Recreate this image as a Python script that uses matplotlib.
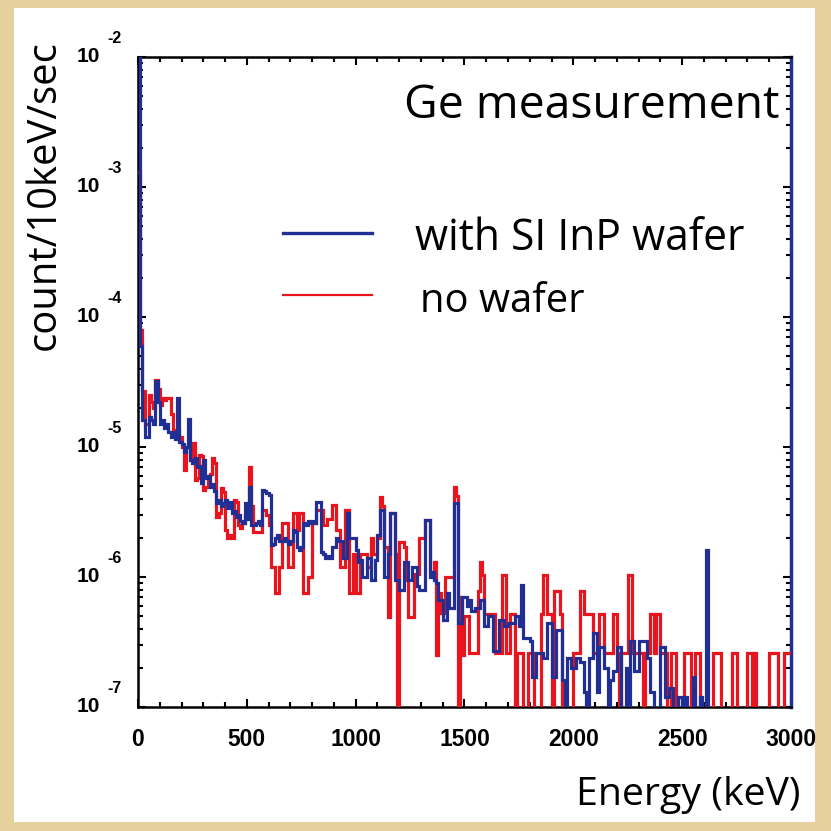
import numpy as np
import matplotlib
matplotlib.use("Agg")
import matplotlib.pyplot as plt
from matplotlib.patches import Rectangle
from matplotlib.transforms import offset_copy
from matplotlib import font_manager as fm

# ---------------- data (count / 10 keV / sec, 10 keV bins from 0 to 3000 keV) ----------------
bin_width_kev = 10
e_min, e_max = 0, 3000

with_wafer_0_500 = [
    2e-2, 6e-5, 1.6e-5, 1.2e-5, 1.2e-5, 1.7e-5, 1.6e-5, 1.5e-5, 3.2e-5, 2.2e-5,
    1.5e-5, 1.6e-5, 1.4e-5, 1.5e-5, 1.3e-5, 1.2e-5, 1.3e-5, 1.15e-5, 2.4e-5, 1.1e-5,
    1.05e-5, 9.2e-6, 1.0e-5, 1.65e-5, 8.0e-6, 7.5e-6, 8.2e-6, 7.0e-6, 7.2e-6, 5.3e-6,
    7.9e-6, 5.8e-6, 6.0e-6, 4.9e-6, 5.2e-6, 4.6e-6, 3.7e-6, 3.9e-6, 3.5e-6, 3.7e-6,
    3.9e-6, 3.4e-6, 3.8e-6, 3.1e-6, 3.2e-6, 2.9e-6, 3.0e-6, 2.7e-6, 2.6e-6, 3.7e-6]
with_wafer_500_1000 = [
    2.8e-6, 4.9e-6, 2.5e-6, 2.5e-6, 2.6e-6, 2.7e-6, 2.5e-6, 4.7e-6, 4.6e-6, 4.4e-6,
    4.3e-6, 1.75e-6, 1.8e-6, 2.0e-6, 2.1e-6, 1.9e-6, 1.9e-6, 2.0e-6, 1.9e-6, 1.8e-6,
    1.9e-6, 2.3e-6, 2.2e-6, 1.7e-6, 1.6e-6, 1.7e-6, 2.6e-6, 2.5e-6, 2.7e-6, 2.6e-6,
    2.7e-6, 2.6e-6, 3.8e-6, 3.8e-6, 1.55e-6, 1.5e-6, 1.4e-6, 1.45e-6, 1.4e-6, 1.7e-6,
    1.7e-6, 2.0e-6, 1.9e-6, 1.9e-6, 1.4e-6, 1.4e-6, 3.1e-6, 2.0e-6, 2.0e-6, 2.0e-6]
with_wafer_1000_1500 = [
    1.6e-6, 1.3e-6, 1.35e-6, 1.0e-6, 1.0e-6, 1.4e-6, 1.4e-6, 9.5e-7, 9.5e-7, 1.35e-6,
    2.1e-6, 3.3e-6, 3.3e-6, 1.0e-6, 1.0e-6, 1.5e-6, 3.1e-6, 3.1e-6, 9.5e-7, 9.5e-7,
    7.9e-7, 7.9e-7, 1.3e-6, 1.3e-6, 9.5e-7, 9.5e-7, 1.2e-6, 1.2e-6, 8.5e-7, 7.9e-7,
    7.9e-7, 7.9e-7, 2.75e-6, 2.75e-6, 1.0e-6, 1.1e-6, 9.5e-7, 9.0e-7, 6.6e-7, 6.6e-7,
    4.7e-7, 4.7e-7, 7.5e-7, 5.8e-7, 5.8e-7, 3.7e-6, 3.7e-6, 4.4e-7, 4.4e-7, 7.0e-7]
with_wafer_1500_2000 = [
    7.0e-7, 6.0e-7, 6.6e-7, 5.5e-7, 5.5e-7, 5.8e-7, 5.8e-7, 6.6e-7, 6.6e-7, 4.2e-7,
    4.2e-7, 5.0e-7, 5.0e-7, 2.7e-7, 2.7e-7, 2.7e-7, 4.7e-7, 4.7e-7, 4.2e-7, 4.2e-7,
    4.4e-7, 4.4e-7, 4.4e-7, 5.0e-7, 5.0e-7, 4.2e-7, 8.7e-7, 3.4e-7, 3.4e-7, 3.4e-7,
    3.2e-7, 1.7e-7, 1.7e-7, 2.6e-7, 2.6e-7, 2.6e-7, 2.4e-7, 2.4e-7, 4.4e-7, 4.4e-7,
    1.7e-7, 1.7e-7, 3.9e-7, 3.9e-7, 3.9e-7, 1.6e-7, 0, 2.4e-7, 2.4e-7, 2.0e-7]
with_wafer_2000_2500 = [
    2.0e-7, 2.4e-7, 2.4e-7, 2.2e-7, 2.2e-7, 1.3e-7, 0, 2.4e-7, 2.4e-7, 3.7e-7,
    3.7e-7, 1.3e-7, 2.9e-7, 2.9e-7, 2.0e-7, 2.0e-7, 0, 1.6e-7, 1.9e-7, 1.9e-7,
    2.9e-7, 2.9e-7, 0, 0, 2.0e-7, 0, 3.2e-7, 3.2e-7, 1.9e-7, 1.9e-7,
    3.2e-7, 3.2e-7, 3.2e-7, 3.2e-7, 2.4e-7, 1.3e-7, 1.3e-7, 0, 0, 0,
    2.9e-7, 2.9e-7, 1.2e-7, 1.2e-7, 1.4e-7, 1.4e-7, 0, 0, 1.2e-7, 1.2e-7]
with_wafer_2500_3000 = [
    0, 1.2e-7, 0, 0, 0, 1.7e-7, 0, 0, 1.2e-7, 0,
    0, 1.6e-6, 0, 0, 0, 0, 0, 0, 0, 0,
    0, 0, 0, 0, 0, 0, 0, 0, 0, 0,
    0, 0, 0, 0, 0, 0, 0, 0, 0, 0,
    0, 0, 0, 0, 0, 0, 0, 0, 0, 0]

no_wafer_0_500 = [
    1.3e-3, 8e-5, 2.7e-5, 1.5e-5, 1.5e-5, 2.5e-5, 2.2e-5, 2.0e-5, 3.3e-5, 2.8e-5,
    2.1e-5, 2.4e-5, 2.3e-5, 2.4e-5, 2.4e-5, 1.8e-5, 1.35e-5, 1.3e-5, 1.35e-5, 1.2e-5,
    1.0e-5, 6.6e-6, 1.0e-5, 1.0e-5, 8.0e-6, 1.07e-5, 5.6e-6, 5.8e-6, 8.7e-6, 8.5e-6,
    4.7e-6, 4.9e-6, 6.0e-6, 6.2e-6, 8.2e-6, 7.5e-6, 2.9e-6, 3.1e-6, 4.8e-6, 4.5e-6,
    2.3e-6, 2.0e-6, 2.1e-6, 2.0e-6, 3.9e-6, 3.8e-6, 2.5e-6, 2.4e-6, 2.6e-6, 3.0e-6]
no_wafer_500_1000 = [
    3.5e-6, 7.0e-6, 3.5e-6, 2.2e-6, 2.2e-6, 2.2e-6, 2.2e-6, 3.3e-6, 3.3e-6, 3.0e-6,
    2.5e-6, 1.2e-6, 1.2e-6, 7.5e-7, 7.5e-7, 1.2e-6, 2.6e-6, 2.6e-6, 2.6e-6, 1.2e-6,
    1.2e-6, 3.1e-6, 3.1e-6, 2.3e-6, 3.1e-6, 3.1e-6, 7.5e-7, 7.5e-7, 1.0e-6, 1.0e-6,
    2.6e-6, 2.6e-6, 3.3e-6, 3.3e-6, 3.3e-6, 2.5e-6, 2.5e-6, 2.8e-6, 2.8e-6, 3.6e-6,
    3.6e-6, 2.3e-6, 2.3e-6, 1.2e-6, 1.2e-6, 3.3e-6, 3.3e-6, 7.5e-7, 7.5e-7, 1.5e-6]
no_wafer_1000_1500 = [
    7.5e-7, 7.5e-7, 1.5e-6, 1.5e-6, 1.5e-6, 1.2e-6, 1.2e-6, 2.0e-6, 1.5e-6, 1.5e-6,
    2.0e-6, 4.1e-6, 3.5e-6, 1.7e-6, 1.7e-6, 4.9e-7, 3.1e-6, 3.1e-6, 1.5e-6, 0,
    1.85e-6, 1.85e-6, 1.7e-6, 9.5e-7, 4.9e-7, 4.9e-7, 4.9e-7, 1.05e-6, 1.05e-6, 2.0e-6,
    2.0e-6, 2.0e-6, 2.75e-6, 2.75e-6, 1.1e-6, 1.1e-6, 1.3e-6, 2.5e-7, 7.5e-7, 5.3e-7,
    5.3e-7, 1.0e-6, 1.0e-6, 1.0e-6, 1.0e-6, 4.9e-6, 4.2e-6, 0, 7.0e-7, 2.5e-7]
no_wafer_1500_2000 = [
    5.0e-7, 5.0e-7, 2.6e-7, 2.6e-7, 2.6e-7, 2.6e-7, 7.8e-7, 1.3e-6, 1.04e-6, 5.2e-7,
    5.2e-7, 5.2e-7, 5.2e-7, 5.2e-7, 2.6e-7, 2.6e-7, 2.6e-7, 1.04e-6, 1.04e-6, 2.6e-7,
    2.6e-7, 5.2e-7, 5.2e-7, 0, 2.6e-7, 2.6e-7, 2.6e-7, 0, 0, 2.6e-7,
    2.6e-7, 2.6e-7, 0, 0, 0, 5.2e-7, 1.04e-6, 1.04e-6, 5.2e-7, 5.2e-7,
    0, 7.8e-7, 7.8e-7, 7.8e-7, 5.2e-7, 0, 0, 0, 0, 0]
no_wafer_2000_2500 = [
    2.6e-7, 2.6e-7, 2.6e-7, 7.8e-7, 7.8e-7, 5.2e-7, 5.2e-7, 5.2e-7, 5.2e-7, 2.6e-7,
    2.6e-7, 2.6e-7, 5.2e-7, 5.2e-7, 2.6e-7, 2.6e-7, 2.6e-7, 2.6e-7, 5.2e-7, 5.2e-7,
    2.6e-7, 0, 2.6e-7, 2.6e-7, 2.6e-7, 1.04e-6, 1.04e-6, 2.6e-7, 2.6e-7, 2.6e-7,
    2.6e-7, 2.6e-7, 0, 2.6e-7, 2.6e-7, 5.2e-7, 5.2e-7, 2.6e-7, 5.2e-7, 5.2e-7,
    2.6e-7, 2.6e-7, 2.6e-7, 0, 0, 2.6e-7, 2.6e-7, 0, 0, 0]
no_wafer_2500_3000 = [
    0, 2.6e-7, 2.6e-7, 2.6e-7, 0, 0, 2.6e-7, 2.6e-7, 0, 0,
    0, 0, 0, 0, 2.6e-7, 2.6e-7, 2.6e-7, 2.6e-7, 0, 0,
    0, 0, 0, 2.6e-7, 2.6e-7, 0, 0, 0, 0, 0,
    2.6e-7, 2.6e-7, 0, 2.6e-7, 0, 0, 0, 0, 0, 0,
    2.6e-7, 2.6e-7, 2.6e-7, 2.6e-7, 0, 0, 0, 2.6e-7, 2.6e-7, 2.6e-7]

x_ticks = [0, 500, 1000, 1500, 2000, 2500, 3000]
y_decades = [-7, -6, -5, -4, -3, -2]

title_text = "Ge measurement"
label_with = "with SI InP wafer"
label_without = "no wafer"
x_label = "Energy (keV)"
y_label = "count/10keV/sec"

with_wafer = np.array(with_wafer_0_500 + with_wafer_500_1000 + with_wafer_1000_1500 +
                      with_wafer_1500_2000 + with_wafer_2000_2500 + with_wafer_2500_3000)
no_wafer = np.array(no_wafer_0_500 + no_wafer_500_1000 + no_wafer_1000_1500 +
                    no_wafer_1500_2000 + no_wafer_2000_2500 + no_wafer_2500_3000)
edges = np.arange(e_min, e_max + bin_width_kev, bin_width_kev)

# ---------------- style ----------------
W = H = 831
DPI = 100
BLUE = "#1f2f94"
RED = "#e8141e"
PARCH = "#e6d09c"
TEXT_FONT = ["Open Sans", "DejaVu Sans"]

names = {f.name for f in fm.fontManager.ttflist}
if "Liberation Sans Narrow" in names:
    TICK_PROPS = dict(fontfamily="Liberation Sans Narrow", fontweight="bold")
else:
    TICK_PROPS = dict(fontfamily=["Liberation Sans", "DejaVu Sans"], fontweight="bold")

fig = plt.figure(figsize=(W / DPI, H / DPI), dpi=DPI)
fig.patch.set_facecolor(PARCH)
fig.patches.append(Rectangle((14 / W, 1 - 822 / H), (815 - 14) / W, (822 - 8) / H,
                             transform=fig.transFigure, facecolor="white",
                             edgecolor="none", zorder=-10))

L, R, T, B = 138, 791, 57, 707
ax = fig.add_axes([L / W, 1 - B / H, (R - L) / W, (B - T) / H])
ax.set_facecolor("white")
ax.set_zorder(1)

def pos(v):
    v = np.asarray(v, dtype=float)
    return np.where(v > 0, v, 1e-12)

ax.stairs(pos(no_wafer), edges, baseline=None, color=RED, lw=2.3, zorder=3)
ax.stairs(pos(with_wafer), edges, baseline=None, color=BLUE, lw=2.3, zorder=4)

ax.set_yscale("log")
ax.set_xlim(e_min, e_max)
ax.set_ylim(10.0 ** y_decades[0], 10.0 ** y_decades[-1])

ax.set_xticks(x_ticks)
ax.set_xticks(np.arange(e_min, e_max + 1, 100), minor=True)
ax.set_yticks([10.0 ** d for d in y_decades])
ax.yaxis.set_minor_locator(matplotlib.ticker.LogLocator(base=10, subs=np.arange(2, 10)))
ax.yaxis.set_minor_formatter(matplotlib.ticker.NullFormatter())

ax.tick_params(which="both", direction="in", top=True, right=True, width=1.5,
               color="black", labelleft=False)
ax.tick_params(which="major", length=6)
ax.tick_params(which="minor", length=3.5)
ax.tick_params(axis="x", pad=15, labelsize=16.5)
for lbl in ax.get_xticklabels():
    lbl.set(**TICK_PROPS)

for s in ["left", "top", "bottom"]:
    ax.spines[s].set_linewidth(1.8)
    ax.spines[s].set_color("black")
ax.spines["right"].set_linewidth(2.5)
ax.spines["right"].set_color(BLUE)

# y tick labels as 10 with raised exponent
ytr = ax.get_yaxis_transform()
exp_tr = offset_copy(ytr, fig=fig, x=0, y=13, units="points")
for d in y_decades:
    ax.text((100 - L) / (R - L), 10.0 ** d, "10", transform=ytr, ha="right", va="center",
            fontsize=15, clip_on=False, **TICK_PROPS)
    ax.text((107 - L) / (R - L), 10.0 ** d, "-%d" % (-d), transform=exp_tr, ha="left",
            va="center", fontsize=11.5, clip_on=False, **TICK_PROPS)

def ax_x(px):
    return (px - L) / (R - L)

def ax_y(py):
    return (B - py) / (B - T)

# legend (manual)
ax.plot([ax_x(283), ax_x(372)], [ax_y(233), ax_y(233)], transform=ax.transAxes,
        color=BLUE, lw=2.4, clip_on=False)
ax.plot([ax_x(283), ax_x(372)], [ax_y(295), ax_y(295)], transform=ax.transAxes,
        color=RED, lw=1.6, clip_on=False)
t_with = ax.text(ax_x(415), ax_y(250), label_with, transform=ax.transAxes,
                 ha="left", va="baseline", fontsize=24, fontfamily=TEXT_FONT)
t_without = ax.text(ax_x(420), ax_y(312), label_without, transform=ax.transAxes,
                    ha="left", va="baseline", fontsize=24, fontfamily=TEXT_FONT)
t_title = ax.text(ax_x(780), ax_y(118), title_text, transform=ax.transAxes,
                  ha="right", va="baseline", fontsize=34, fontfamily=TEXT_FONT)
t_xl = fig.text(800 / W, 1 - 805 / H, x_label, ha="right", va="baseline",
                fontsize=24, fontfamily=TEXT_FONT)
t_yl = fig.text(45 / W, 1 - 195 / H, y_label, ha="center", va="center",
                rotation=90, fontsize=24, fontfamily=TEXT_FONT)

# fit sizes to the reference extents
fig.canvas.draw()
r = fig.canvas.get_renderer()
for t, target, vertical in [(t_with, 330, False), (t_without, 165, False),
                            (t_title, 375, False), (t_xl, 225, False), (t_yl, 310, True)]:
    bb = t.get_window_extent(r)
    cur = bb.height if vertical else bb.width
    t.set_fontsize(t.get_fontsize() * target / cur)

fig.savefig("out.png", dpi=DPI, facecolor=fig.get_facecolor())
